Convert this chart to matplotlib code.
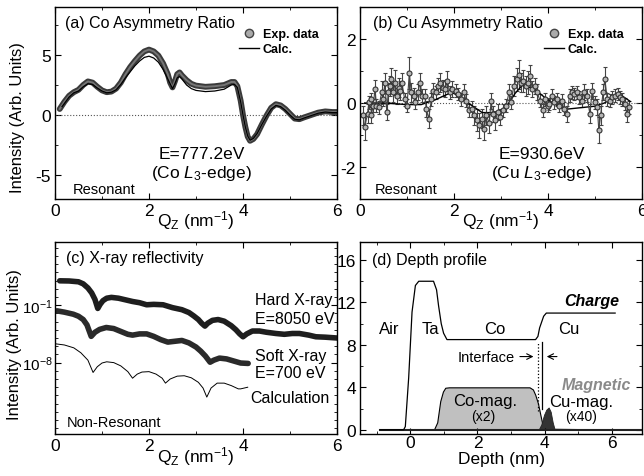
import numpy as np
import matplotlib.pyplot as plt
from matplotlib.lines import Line2D
from matplotlib.ticker import MultipleLocator, FixedLocator, LogFormatterSciNotation, NullFormatter

plt.rcParams['font.family'] = 'Liberation Sans'
plt.rcParams['mathtext.fontset'] = 'custom'
plt.rcParams['mathtext.rm'] = 'Liberation Sans'
plt.rcParams['mathtext.it'] = 'Liberation Sans:italic'
plt.rcParams['mathtext.bf'] = 'Liberation Sans:bold'
plt.rcParams['axes.unicode_minus'] = False

# ---------------- (a) Co asymmetry ratio
qa_exp = [0.1, 0.2, 0.3, 0.4, 0.5, 0.6, 0.7, 0.8, 0.9, 1.0, 1.1, 1.2, 1.3, 1.4, 1.5, 1.6, 1.7, 1.8, 1.9, 2.0,
          2.1, 2.2, 2.3, 2.4, 2.45, 2.5, 2.55, 2.6, 2.65, 2.7, 2.8, 2.9, 3.0, 3.2, 3.4, 3.6, 3.75, 3.82, 3.88, 3.95,
          4.0, 4.05, 4.1, 4.15, 4.22, 4.3, 4.4, 4.5, 4.6, 4.7, 4.8, 4.9, 5.0, 5.1, 5.2, 5.3, 5.45, 5.6, 5.75, 5.9, 6.0]
ra_exp = [0.5, 1.1, 1.6, 1.9, 2.1, 2.5, 2.8, 2.7, 2.35, 2.05, 1.9, 1.95, 2.2, 2.7, 3.4, 4.0, 4.5, 4.95, 5.3, 5.45,
          5.3, 4.95, 4.3, 3.4, 2.7, 2.3, 2.8, 3.4, 3.55, 3.3, 2.9, 2.6, 2.45, 2.35, 2.4, 2.5, 2.75, 2.75, 2.4, 1.2,
          0.0, -1.0, -1.8, -2.15, -2.0, -1.6, -0.8, -0.05, 0.6, 0.9, 0.8, 0.5, 0.1, -0.3, -0.35, -0.2, 0.0, 0.2, 0.3, 0.25, 0.25]
qa_calc = [0.15, 0.3, 0.4, 0.5, 0.6, 0.7, 0.8, 0.9, 1.0, 1.1, 1.2, 1.3, 1.4, 1.5, 1.6, 1.7, 1.8, 1.9, 2.0,
           2.1, 2.2, 2.3, 2.4, 2.5, 2.55, 2.6, 2.65, 2.7, 2.8, 2.9, 3.0, 3.2, 3.4, 3.6, 3.75, 3.82, 3.88, 3.95,
           4.0, 4.05, 4.1, 4.15, 4.22, 4.3, 4.4, 4.5, 4.6, 4.7, 4.8, 4.9, 5.0, 5.1, 5.2, 5.3, 5.45, 5.6, 5.75, 5.9, 6.0]
ra_calc = [0.7, 1.5, 1.85, 2.0, 2.35, 2.6, 2.55, 2.25, 2.0, 1.85, 1.9, 2.1, 2.55, 3.1, 3.6, 4.1, 4.5, 4.8, 4.9,
           4.75, 4.4, 3.8, 3.0, 2.2, 2.6, 3.1, 3.2, 3.0, 2.5, 2.2, 2.05, 1.95, 2.0, 2.15, 2.5, 2.55, 2.3, 1.1,
           0.0, -1.0, -1.75, -2.1, -1.95, -1.55, -0.8, -0.1, 0.5, 0.8, 0.7, 0.4, 0.0, -0.35, -0.4, -0.25, -0.05, 0.15, 0.25, 0.2, 0.2]

# ---------------- (b) Cu asymmetry ratio
qb_exp = [0.065, 0.10, 0.16, 0.19, 0.23, 0.24, 0.28, 0.32, 0.35, 0.40,
          0.46, 0.49, 0.53, 0.57, 0.60, 0.64, 0.67, 0.71, 0.75, 0.78,
          0.82, 0.85, 0.89, 0.95, 1.00, 1.05, 1.09, 1.14, 1.18, 1.23,
          1.28, 1.32, 1.38, 1.41, 1.46, 1.52, 1.55, 1.61, 1.66, 1.71,
          1.76, 1.81, 1.86, 1.91, 1.96, 2.04, 2.09, 2.14, 2.21, 2.26,
          2.32, 2.38, 2.43, 2.48, 2.54, 2.59, 2.64, 2.69, 2.75, 2.79,
          2.82, 2.88, 2.93, 2.98, 3.04, 3.11, 3.17, 3.22, 3.27, 3.33,
          3.38, 3.43, 3.47, 3.53, 3.58, 3.61, 3.67, 3.72, 3.77, 3.83,
          3.89, 3.94, 3.99, 4.03, 4.08, 4.13, 4.19, 4.24, 4.29, 4.34,
          4.40, 4.46, 4.51, 4.56, 4.62, 4.67, 4.72, 4.77, 4.83, 4.89,
          4.94, 4.99, 5.05, 5.08, 5.12, 5.17, 5.21, 5.26, 5.32, 5.37,
          5.42, 5.48, 5.53, 5.58, 5.63, 5.68, 5.73]
rb_exp = [-0.39, -0.75, -0.34, 0.02, 0.12, -0.39, -0.08, 0.43, -0.08, -0.13,
          0.33, 0.12, 0.64, -0.29, 0.33, 0.53, 0.74, 0.33, 0.64, 0.23,
          0.48, 0.38, 0.64, 0.12, -0.08, 0.94, 0.33, 0.23, 0.02, 0.33,
          0.64, 0.23, 0.23, -0.18, -0.49, 0.12, 0.38, 0.33, 0.53, 0.64,
          0.48, 0.43, 0.69, 0.33, 0.43, 0.38, 0.28, 0.12, 0.33, 0.07,
          -0.23, -0.18, -0.39, -0.54, -0.70, -0.49, -0.80, -0.39, -0.64, 0.07,
          -0.34, -0.54, -0.29, -0.44, -0.23, -0.08, 0.33, 0.02, 0.53, 0.74,
          0.89, 0.64, 0.69, 0.53, 0.64, 0.84, 0.43, 0.53, 0.33, 0.07,
          -0.23, 0.12, -0.08, -0.03, 0.23, 0.02, 0.12, -0.08, 0.07, -0.18,
          -0.34, 0.23, 0.33, 0.28, 0.33, 0.18, 0.07, 0.33, 0.23, -0.34,
          0.38, 0.02, -0.13, -0.85, -0.39, 0.33, 0.74, 0.12, 0.07, 0.18,
          0.23, 0.28, 0.18, 0.12, -0.03, -0.34, -0.13]
eb_exp = [0.3, 0.4, 0.3, 0.2, 0.2, 0.25, 0.2, 0.3, 0.2, 0.2,
          0.35, 0.2, 0.3, 0.25, 0.3, 0.3, 0.35, 0.3, 0.4, 0.25,
          0.3, 0.3, 0.3, 0.2, 0.2, 0.5, 0.3, 0.25, 0.2, 0.25,
          0.3, 0.2, 0.2, 0.25, 0.3, 0.2, 0.25, 0.2, 0.25, 0.3,
          0.25, 0.25, 0.3, 0.2, 0.25, 0.2, 0.2, 0.2, 0.25, 0.2,
          0.2, 0.25, 0.3, 0.35, 0.4, 0.3, 0.35, 0.3, 0.3, 0.25,
          0.25, 0.3, 0.25, 0.25, 0.2, 0.2, 0.25, 0.2, 0.3, 0.35,
          0.45, 0.3, 0.35, 0.3, 0.35, 0.35, 0.25, 0.25, 0.25, 0.2,
          0.2, 0.2, 0.2, 0.2, 0.2, 0.2, 0.2, 0.2, 0.2, 0.2,
          0.25, 0.2, 0.2, 0.2, 0.2, 0.2, 0.2, 0.25, 0.2, 0.3,
          0.25, 0.2, 0.25, 0.4, 0.3, 0.25, 0.4, 0.2, 0.2, 0.2,
          0.2, 0.2, 0.2, 0.2, 0.2, 0.25, 0.2]
qb_calc = [0.1, 0.5, 1.0, 1.3, 1.6, 1.9, 2.0, 2.3, 2.6, 2.9, 3.1, 3.3, 3.45, 3.7, 3.95, 4.1, 4.35, 5.0, 5.2, 5.5, 5.75]
rb_calc = [0.0, 0.0, -0.05, -0.05, 0.1, 0.3, 0.3, 0.0, -0.3, -0.3, -0.15, 0.3, 0.55, 0.45, 0.15, 0.0, -0.2, -0.1, 0.0, 0.3, 0.05]

# ---------------- (c) X-ray reflectivity (log10 of intensity)
qc_hard = [0.1, 0.3, 0.5, 0.6, 0.7, 0.78, 0.85, 0.91, 0.96, 1.02, 1.1, 1.2, 1.35, 1.5, 1.65, 1.8, 1.95, 2.1,
           2.3, 2.5, 2.7, 2.85, 2.95, 3.05, 3.12, 3.19, 3.25, 3.35, 3.47, 3.6, 3.75, 3.85, 3.93, 4.0, 4.08,
           4.2, 4.35, 4.5, 4.7, 4.88, 5.05, 5.2, 5.4, 5.55, 5.75, 6.0]
lc_hard = [1.97, 1.95, 1.85, 1.6, 1.1, 0.5, -0.3, -1.4, -0.9, -0.45, -0.15, -0.05, -0.15, -0.35, -0.55, -0.7,
           -0.95, -0.9, -0.95, -1.3, -1.55, -1.9, -2.3, -2.75, -3.2, -3.55, -3.2, -2.85, -2.75, -2.95, -3.5,
           -4.0, -4.5, -4.85, -4.5, -4.15, -4.15, -4.3, -4.45, -4.55, -4.45, -4.45, -4.65, -4.85, -4.9, -5.0]
qc_soft = [0.04, 0.2, 0.39, 0.5, 0.6, 0.68, 0.77, 0.85, 0.95, 1.09, 1.25, 1.4, 1.55, 1.65, 1.8, 1.95, 2.1,
           2.25, 2.4, 2.55, 2.7, 2.85, 3.0, 3.1, 3.2, 3.3, 3.38, 3.5, 3.65, 3.8, 3.95, 4.11]
lc_soft = [-1.69, -1.85, -2.1, -2.35, -2.75, -3.4, -4.8, -4.3, -3.95, -3.72, -3.85, -4.2, -4.55, -4.65, -4.5,
           -4.5, -4.8, -5.2, -5.5, -5.4, -5.3, -5.6, -6.1, -6.6, -7.2, -7.95, -7.7, -7.45, -7.55, -7.8, -8.05, -8.1]
qc_calc = [0.0, 0.2, 0.4, 0.55, 0.7, 0.81, 0.9, 1.0, 1.1, 1.25, 1.4, 1.55, 1.65, 1.75, 1.85, 2.0, 2.15, 2.28, 2.35,
           2.45, 2.6, 2.75, 2.9, 3.05, 3.15, 3.23, 3.32, 3.45, 3.6, 3.75, 3.9, 3.95, 4.1]
lc_calc = [-5.7, -5.85, -6.2, -6.8, -7.7, -9.2, -8.5, -8.05, -7.9, -8.0, -8.4, -9.1, -9.9, -9.4, -9.15, -9.1, -9.4,
           -9.9, -10.5, -10.0, -9.65, -9.6, -9.85, -10.4, -11.1, -12.2, -11.1, -10.5, -10.5, -10.8, -11.2, -11.2, -11.0]

# ---------------- (d) depth profile
dep_charge = [-0.9, -0.2, -0.15, -0.05, 0.05, 0.15, 0.25, 0.69, 0.78, 0.84, 0.92, 0.99, 1.09, 3.73, 3.8, 3.85, 3.97,
              4.05, 6.1]
charge = [0, 0, 0.3, 4.9, 11.1, 13.6, 14, 14, 13.2, 11.7, 10.0, 9.1, 8.5, 8.5, 8.8, 9.6, 10.7, 11, 11]
dep_co = [-0.9, 0.7, 0.8, 0.89, 0.97, 1.04, 1.15, 3.55, 3.65, 3.72, 3.8, 3.86, 3.92, 3.98, 6.9]
co_mag = [0, 0, 0.7, 2.7, 3.6, 3.96, 4.0, 4.0, 3.8, 3.3, 2.5, 1.6, 0.7, 0.1, 0]
dep_cu = [3.82, 3.9, 3.98, 4.05, 4.12, 4.18, 4.24, 4.3]
cu_mag = [0, 0.5, 1.4, 1.9, 2.1, 1.7, 0.7, 0]

fig = plt.figure(figsize=(6.44, 4.77), dpi=100)
W, H = 644, 477
def add_ax(l, t, r, b):
    return fig.add_axes([l / W, 1 - b / H, (r - l) / W, (b - t) / H])

axa = add_ax(55, 8, 337, 200)
axb = add_ax(360, 8, 642, 200)
axc = add_ax(55, 243, 337, 435)
axd = add_ax(360, 243, 642, 435)

qlabel = r'Q$_\mathregular{Z}$ (nm$^{\mathregular{-1}}$)'

for ax in (axa, axb, axc, axd):
    ax.tick_params(which='both', direction='in', top=True, right=True, labelsize=12.5, pad=3)
    ax.tick_params(which='major', length=4)
    ax.tick_params(which='minor', length=2.5)
    for s in ax.spines.values():
        s.set_linewidth(1.0)

for ax in (axa, axb, axc):
    ax.set_xlim(0, 6)
    ax.xaxis.set_major_locator(MultipleLocator(2))
    ax.xaxis.set_minor_locator(MultipleLocator(1))
    ax.set_xlabel(qlabel, fontsize=12.5, va='top')
    ax.xaxis.set_label_coords(0.5, -0.05)

# (a)
axa.axhline(0, color='#555555', ls=':', lw=0.8)
axa.plot(qa_exp, ra_exp, color='#3a3a3a', lw=4.2, solid_capstyle='round')
axa.plot(qa_exp, ra_exp, color='#757575', lw=1.4)
axa.plot(qa_calc, ra_calc, color='k', lw=0.9)
axa.set_ylim(-7, 9)
axa.yaxis.set_major_locator(FixedLocator([-5, 0, 5]))
axa.yaxis.set_minor_locator(MultipleLocator(2.5))
axa.set_ylabel('Intensity (Arb. Units)', fontsize=12)
axa.yaxis.set_label_coords(-0.105, 0.43)
axa.text(0.035, 0.92, '(a) Co Asymmetry Ratio', transform=axa.transAxes, fontsize=11.5, va='center')
axa.text(0.52, 0.235, 'E=777.2eV', transform=axa.transAxes, fontsize=12.5, ha='center', va='center')
axa.text(0.52, 0.14, r'(Co $\mathit{L}_\mathregular{3}$-edge)', transform=axa.transAxes, fontsize=12.5,
         ha='center', va='center')
axa.text(0.064, 0.05, 'Resonant', transform=axa.transAxes, fontsize=10.5, va='center')

handles = [Line2D([], [], marker='o', ls='none', mfc='#aaaaaa', mec='#444444', ms=6),
           Line2D([], [], color='k', lw=1)]
for ax in (axa, axb):
    ax.legend(handles, ['Exp. data', 'Calc.'], loc='upper right', bbox_to_anchor=(0.935, 0.89),
              frameon=False, prop={'weight': 'bold', 'size': 9}, handlelength=1.6, handletextpad=0.3,
              labelspacing=0.25, borderpad=0, borderaxespad=0)

# (b)
axb.axhline(0, color='#555555', ls=':', lw=0.8)
axb.errorbar(qb_exp, rb_exp, yerr=eb_exp, fmt='-o', color='#444444', mfc='#b5b5b5', mec='#333333',
             ms=3.6, mew=0.8, lw=0.8, elinewidth=0.8, capsize=1.5, capthick=0.8)
axb.plot(qb_calc, rb_calc, color='k', lw=1.0)
axb.set_ylim(-3, 3)
axb.yaxis.set_major_locator(MultipleLocator(2))
axb.yaxis.set_minor_locator(MultipleLocator(1))
axb.text(0.046, 0.92, '(b) Cu Asymmetry Ratio', transform=axb.transAxes, fontsize=11.5, va='center')
axb.text(0.645, 0.235, 'E=930.6eV', transform=axb.transAxes, fontsize=12.5, ha='center', va='center')
axb.text(0.645, 0.14, r'(Cu $\mathit{L}_\mathregular{3}$-edge)', transform=axb.transAxes, fontsize=12.5,
         ha='center', va='center')
axb.text(0.053, 0.05, 'Resonant', transform=axb.transAxes, fontsize=10.5, va='center')

# (c)
axc.semilogy(qc_hard, 10.0 ** np.array(lc_hard), color='#1e1e1e', lw=4.0, solid_capstyle='round')
axc.semilogy(qc_soft, 10.0 ** np.array(lc_soft), color='#2a2a2a', lw=4.0, solid_capstyle='round')
axc.semilogy(qc_calc, 10.0 ** np.array(lc_calc), color='k', lw=0.7)
axc.set_ylim(10 ** -16.7, 10 ** 6.7)
axc.yaxis.set_major_locator(FixedLocator([1e-8, 1e-1]))
axc.yaxis.set_major_formatter(LogFormatterSciNotation())
axc.yaxis.set_minor_locator(FixedLocator([10.0 ** k for k in range(-17, 7)]))
axc.yaxis.set_minor_formatter(NullFormatter())
axc.tick_params(axis='y', which='both', labelsize=11, pad=1.5)
axc.set_ylabel('Intensity (Arb. Units)', fontsize=12)
axc.yaxis.set_label_coords(-0.118, 0.47)
axc.text(0.04, 0.92, '(c) X-ray reflectivity', transform=axc.transAxes, fontsize=11.5, va='center')
axc.text(0.71, 0.70, 'Hard X-ray', transform=axc.transAxes, fontsize=11.5, va='center')
axc.text(0.71, 0.60, 'E=8050 eV', transform=axc.transAxes, fontsize=11.5, va='center')
axc.text(0.71, 0.41, 'Soft X-ray', transform=axc.transAxes, fontsize=11.5, va='center')
axc.text(0.71, 0.32, 'E=700 eV', transform=axc.transAxes, fontsize=11.5, va='center')
axc.text(0.694, 0.19, 'Calculation', transform=axc.transAxes, fontsize=11.5, va='center')
axc.text(0.04, 0.06, 'Non-Resonant', transform=axc.transAxes, fontsize=10.5, va='center')

# (d)
axd.fill_between(dep_co, co_mag, color='#c0c0c0', edgecolor='k', lw=0.8)
axd.fill_between(dep_cu, cu_mag, color='#333333', edgecolor='#222222', lw=0.6)
axd.plot([-0.9, 6.9], [0, 0], color='#222222', lw=1.5)
axd.plot(dep_charge, charge, color='k', lw=0.9)
axd.plot([3.8, 3.8], [1.8, 8.3], color='k', ls=':', lw=0.9)
axd.plot([3.93, 3.93], [2.0, 8.3], color='k', lw=0.9)
axd.annotate('', xy=(3.75, 6.9), xytext=(3.18, 6.9), arrowprops=dict(arrowstyle='->', lw=0.8, color='k'))
axd.annotate('', xy=(3.98, 6.9), xytext=(4.45, 6.9), arrowprops=dict(arrowstyle='->', lw=0.8, color='k'))
axd.text(3.12, 6.9, 'Interface', fontsize=10.5, ha='right', va='center')
axd.set_xlim(-1.5, 6.9)
axd.set_ylim(-0.4, 17.7)
axd.xaxis.set_major_locator(MultipleLocator(2))
axd.xaxis.set_minor_locator(MultipleLocator(1))
axd.yaxis.set_major_locator(MultipleLocator(4))
axd.yaxis.set_minor_locator(MultipleLocator(2))
axd.tick_params(axis='x', which='both', pad=1)
axd.set_xlabel('Depth (nm)', fontsize=12.5, va='top')
axd.xaxis.set_label_coords(0.5, -0.088)
axd.text(0.041, 0.91, '(d) Depth profile', transform=axd.transAxes, fontsize=11.5, va='center')
for lab, x in (('Air', -0.64), ('Ta', 0.59), ('Co', 2.52), ('Cu', 4.72)):
    axd.text(x, 9.5, lab, fontsize=12, ha='center', va='center')
axd.text(6.22, 12.2, 'Charge', fontsize=11.5, fontweight='bold', fontstyle='italic', ha='right', va='center')
axd.text(6.57, 4.3, 'Magnetic', fontsize=11.5, fontweight='bold', fontstyle='italic', color='#8a8a8a',
         ha='right', va='center')
axd.text(2.22, 2.75, 'Co-mag.', fontsize=12, ha='center', va='center')
axd.text(2.17, 1.3, '(x2)', fontsize=10, ha='center', va='center')
axd.text(5.09, 2.7, 'Cu-mag.', fontsize=12, ha='center', va='center')
axd.text(5.07, 1.3, '(x40)', fontsize=10, ha='center', va='center')

fig.savefig('out.png', dpi=100)
